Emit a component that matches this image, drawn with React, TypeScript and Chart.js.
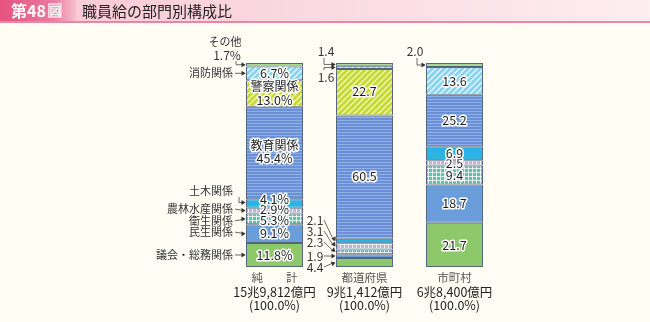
import React, { useEffect, useRef } from 'react';
import { Chart, registerables } from 'chart.js';
Chart.register(...registerables);

const categories = ['純計', '都道府県', '市町村'];
const categoryLabels = ['純　　計', '都道府県', '市町村'];
const sectors = ['議会・総務関係', '民生関係', '衛生関係', '農林水産関係', '土木関係', '教育関係', '警察関係', '消防関係', 'その他'];
const netTotal = [11.8, 9.1, 5.3, 2.9, 4.1, 45.4, 13.0, 6.7, 1.7];
const prefectures = [4.4, 1.9, 2.3, 3.1, 2.1, 60.5, 22.7, 1.6, 1.4];
const municipalities = [21.7, 18.7, 9.4, 2.5, 6.9, 25.2, 0, 13.6, 2.0];
const amountLabels = ['15兆9,812億円', '9兆1,412億円', '6兆8,400億円'];
const shareLabels = ['(100.0%)', '(100.0%)', '(100.0%)'];
const titleText = '職員給の部門別構成比';
const figText = '第48';

const FONT = '"Noto Sans CJK JP", "Noto Sans", sans-serif';

function makePattern(kind: string, base: string, line: string): CanvasPattern | string {
  const c = document.createElement('canvas');
  const size = kind === 'diag' ? 6 : kind === 'grid' ? 4 : 3;
  c.width = kind === 'hstripe' ? 2 : size;
  c.height = size;
  const g = c.getContext('2d');
  if (!g) return base;
  g.fillStyle = base;
  g.fillRect(0, 0, c.width, c.height);
  if (kind === 'hstripe') {
    g.fillStyle = line;
    g.fillRect(0, 0, c.width, 1);
  } else if (kind === 'diag') {
    g.strokeStyle = line;
    g.lineWidth = 1.4;
    g.beginPath();
    g.moveTo(-1, 7); g.lineTo(7, -1);
    g.moveTo(-4, 4); g.lineTo(4, -4);
    g.moveTo(2, 10); g.lineTo(10, 2);
    g.stroke();
  } else if (kind === 'grid') {
    g.fillStyle = line;
    g.fillRect(0, 0, 4, 1);
    g.fillRect(0, 0, 1, 4);
  }
  const p = g.createPattern(c, 'repeat');
  return p || base;
}

export default function App() {
  const ref = useRef<HTMLCanvasElement | null>(null);
  useEffect(() => {
    document.body.style.margin = '0';
    document.body.style.background = '#fffdf4';
    const canvas = ref.current;
    if (!canvas) return;

    const fills = [
      '#8dc86a',
      '#6a9edb',
      makePattern('grid', '#5cc4a8', 'rgba(255,255,255,0.75)'),
      makePattern('grid', '#c4b2de', 'rgba(255,255,255,0.8)'),
      '#2ab4e4',
      makePattern('hstripe', '#6b90d6', '#8fb0e8'),
      makePattern('diag', '#c6da2a', 'rgba(255,255,255,0.75)'),
      makePattern('diag', '#86d4ee', 'rgba(255,255,255,0.8)'),
      '#a6d98e',
    ];

    const datasets = sectors.map((s, i) => ({
      label: s,
      data: [netTotal[i], prefectures[i], municipalities[i]],
      backgroundColor: fills[i] as any,
      borderColor: '#55657f',
      borderWidth: (c: any) => (c.raw === 0 ? 0 : 1),
      borderSkipped: false as any,
      categoryPercentage: 1,
      barPercentage: 0.633,
    }));

    const arrowHead = (ctx: CanvasRenderingContext2D, x: number, y: number) => {
      ctx.beginPath();
      ctx.moveTo(x, y);
      ctx.lineTo(x - 4, y - 2.5);
      ctx.lineTo(x - 4, y + 2.5);
      ctx.closePath();
      ctx.fill();
    };

    const outlined = (ctx: CanvasRenderingContext2D, text: string, x: number, y: number, size = 12) => {
      ctx.font = `${size}px ${FONT}`;
      ctx.textAlign = 'center';
      ctx.textBaseline = 'middle';
      ctx.lineJoin = 'round';
      ctx.lineWidth = 3;
      ctx.strokeStyle = '#ffffff';
      ctx.strokeText(text, x, y);
      ctx.fillStyle = '#1e1e1e';
      ctx.fillText(text, x, y);
    };

    const bgPlugin = {
      id: 'bg',
      beforeDraw(chart: any) {
        const ctx: CanvasRenderingContext2D = chart.ctx;
        ctx.save();
        ctx.fillStyle = '#fffdf4';
        ctx.fillRect(0, 0, 650, 322);
        const g = ctx.createLinearGradient(72, 0, 650, 0);
        g.addColorStop(0, '#f9cbd6');
        g.addColorStop(1, '#fdeef1');
        ctx.fillStyle = g;
        ctx.fillRect(72, 0, 578, 21);
        const g2 = ctx.createLinearGradient(0, 0, 76, 0);
        g2.addColorStop(0, '#e4527f');
        g2.addColorStop(0.7, '#eb7aa0');
        g2.addColorStop(1, '#f7bfd0');
        ctx.fillStyle = g2;
        ctx.fillRect(0, 0, 76, 21);
        ctx.fillStyle = '#ea86a6';
        ctx.fillRect(0, 21, 650, 2);
        ctx.fillStyle = '#ffffff';
        ctx.font = `bold 16px ${FONT}`;
        ctx.textBaseline = 'middle';
        ctx.textAlign = 'left';
        ctx.fillText(figText, 11, 11);
        const w = ctx.measureText(figText).width;
        ctx.strokeStyle = '#ffffff';
        ctx.lineWidth = 1.2;
        ctx.strokeRect(11 + w + 3, 4, 12, 13);
        ctx.font = `bold 11px ${FONT}`;
        ctx.textAlign = 'center';
        ctx.fillText('図', 11 + w + 9, 11);
        ctx.fillStyle = '#222222';
        ctx.font = `15px ${FONT}`;
        ctx.textAlign = 'left';
        ctx.fillText(titleText, 82, 11);
        ctx.restore();
      },
    };

    const labelPlugin = {
      id: 'labels',
      afterDatasetsDraw(chart: any) {
        const ctx: CanvasRenderingContext2D = chart.ctx;
        const seg = (d: number, b: number) => {
          const el = chart.getDatasetMeta(d).data[b];
          return { x: el.x, cy: (el.y + el.base) / 2, left: el.x - el.width / 2, w: el.width };
        };
        const val = (b: number, d: number) => [netTotal, prefectures, municipalities][b][d];
        ctx.save();

        // inside labels bar 0
        [0, 1, 2, 3, 4].forEach((d) => {
          const s = seg(d, 0);
          outlined(ctx, val(0, d).toFixed(1) + '%', s.x, s.cy + (d === 4 ? -4 : d === 2 ? 1.5 : d === 3 ? -1 : 0), 12.5);
        });
        {
          const s = seg(5, 0);
          outlined(ctx, sectors[5], s.x, s.cy - 8, 12);
          outlined(ctx, val(0, 5).toFixed(1) + '%', s.x, s.cy + 5.5, 12.5);
          const p = seg(6, 0);
          outlined(ctx, sectors[6], p.x, p.cy - 6.5, 12);
          outlined(ctx, val(0, 6).toFixed(1) + '%', p.x, p.cy + 6.5, 12.5);
          const f = seg(7, 0);
          outlined(ctx, val(0, 7).toFixed(1) + '%', f.x, f.cy, 12.5);
        }
        // inside labels bar 1
        [5, 6].forEach((d) => {
          const s = seg(d, 1);
          outlined(ctx, val(1, d).toFixed(1), s.x, s.cy - 1, 12.5);
        });
        // inside labels bar 2
        [0, 1, 2, 3, 4, 5, 7].forEach((d) => {
          const s = seg(d, 2);
          outlined(ctx, val(2, d).toFixed(1), s.x, s.cy, 12.5);
        });

        // outside labels
        ctx.fillStyle = '#333333';
        ctx.strokeStyle = '#444444';
        ctx.lineWidth = 0.8;
        ctx.font = `11px ${FONT}`;
        ctx.textBaseline = 'middle';

        // bar 0 left labels, straight arrows
        const straight: [number, number][] = [[0, 0], [1, -1.5], [2, 2], [3, -1.5], [7, 0]];
        straight.forEach(([d, dy]) => {
          const s = seg(d, 0);
          const y = s.cy + dy;
          ctx.textAlign = 'right';
          ctx.fillStyle = '#333333';
          ctx.fillText(sectors[d], 233, y);
          ctx.beginPath();
          ctx.moveTo(235, y);
          ctx.lineTo(s.left - 1, s.cy);
          ctx.stroke();
          ctx.fillStyle = '#333333';
          arrowHead(ctx, s.left - 0.5, s.cy);
        });
        // 土木 elbow
        {
          const s = seg(4, 0);
          const ty = s.cy - 12.5;
          ctx.textAlign = 'right';
          ctx.fillText(sectors[4], 233, ty);
          ctx.beginPath();
          ctx.moveTo(239, ty + 6);
          ctx.lineTo(239, s.cy - 1);
          ctx.lineTo(s.left - 1, s.cy - 1);
          ctx.stroke();
          arrowHead(ctx, s.left - 0.5, s.cy - 1);
        }
        // その他 bar 0
        {
          const s = seg(8, 0);
          ctx.textAlign = 'center';
          ctx.fillText(sectors[8], 225, 42);
          ctx.font = `12px ${FONT}`;
          ctx.fillText(val(0, 8).toFixed(1) + '%', 227, 55);
          ctx.font = `11px ${FONT}`;
          ctx.beginPath();
          ctx.moveTo(236, 61);
          ctx.lineTo(236, s.cy);
          ctx.lineTo(s.left - 1, s.cy);
          ctx.stroke();
          arrowHead(ctx, s.left - 0.5, s.cy);
        }

        // bar 1 top small labels
        {
          ctx.font = `12px ${FONT}`;
          ctx.textAlign = 'center';
          const a = seg(8, 1);
          const b = seg(7, 1);
          ctx.fillText(val(1, 8).toFixed(1), 326, 51);
          ctx.fillText(val(1, 7).toFixed(1), 326, 77);
          ctx.beginPath();
          ctx.moveTo(324, 58);
          ctx.lineTo(324, a.cy);
          ctx.lineTo(a.left - 1, a.cy);
          ctx.moveTo(324, 70);
          ctx.lineTo(324, b.cy);
          ctx.lineTo(b.left - 1, b.cy);
          ctx.stroke();
          arrowHead(ctx, a.left - 0.5, a.cy);
          arrowHead(ctx, b.left - 0.5, b.cy);
        }
        // bar 1 bottom small labels
        {
          const bottom: [number, number][] = [[4, 220], [3, 231], [2, 242], [1, 256], [0, 267]];
          bottom.forEach(([d, ly]) => {
            const s = seg(d, 1);
            ctx.textAlign = 'center';
            ctx.fillText(val(1, d).toFixed(1), 315, ly);
            ctx.beginPath();
            ctx.moveTo(324, ly);
            ctx.lineTo(s.left - 2, s.cy);
            ctx.stroke();
            const ang = Math.atan2(s.cy - ly, s.left - 324);
            ctx.save();
            ctx.translate(s.left - 0.5, s.cy);
            ctx.rotate(ang);
            arrowHead(ctx, 0, 0);
            ctx.restore();
          });
        }
        // bar 2 top label
        {
          const s = seg(8, 2);
          ctx.textAlign = 'center';
          ctx.fillText(val(2, 8).toFixed(1), 415, 51);
          ctx.beginPath();
          ctx.moveTo(417, 58);
          ctx.lineTo(417, s.cy);
          ctx.lineTo(s.left - 1, s.cy);
          ctx.stroke();
          arrowHead(ctx, s.left - 0.5, s.cy);
        }

        // bottom category texts
        for (let b = 0; b < 3; b++) {
          const s = seg(0, b);
          ctx.textAlign = 'center';
          ctx.fillStyle = '#555555';
          ctx.font = `11.5px ${FONT}`;
          ctx.fillText(categoryLabels[b], s.x, 278);
          ctx.fillStyle = '#222222';
          ctx.font = `12.5px ${FONT}`;
          ctx.fillText(amountLabels[b], s.x, 292);
          ctx.fillText(shareLabels[b], s.x, 305);
        }
        ctx.restore();
      },
    };

    const chart = new Chart(canvas, {
      type: 'bar',
      data: { labels: categories, datasets: datasets as any },
      options: {
        animation: false,
        responsive: false,
        events: [],
        layout: { padding: { left: 229.5, right: 150.5, top: 63, bottom: 55 } },
        plugins: { legend: { display: false }, tooltip: { enabled: false } },
        scales: {
          x: { stacked: true, display: false },
          y: { stacked: true, display: false, min: 0, max: 100 },
        },
      },
      plugins: [bgPlugin, labelPlugin],
    });
    return () => chart.destroy();
  }, []);

  return <canvas ref={ref} width={650} height={322} style={{ display: 'block' }} />;
}
